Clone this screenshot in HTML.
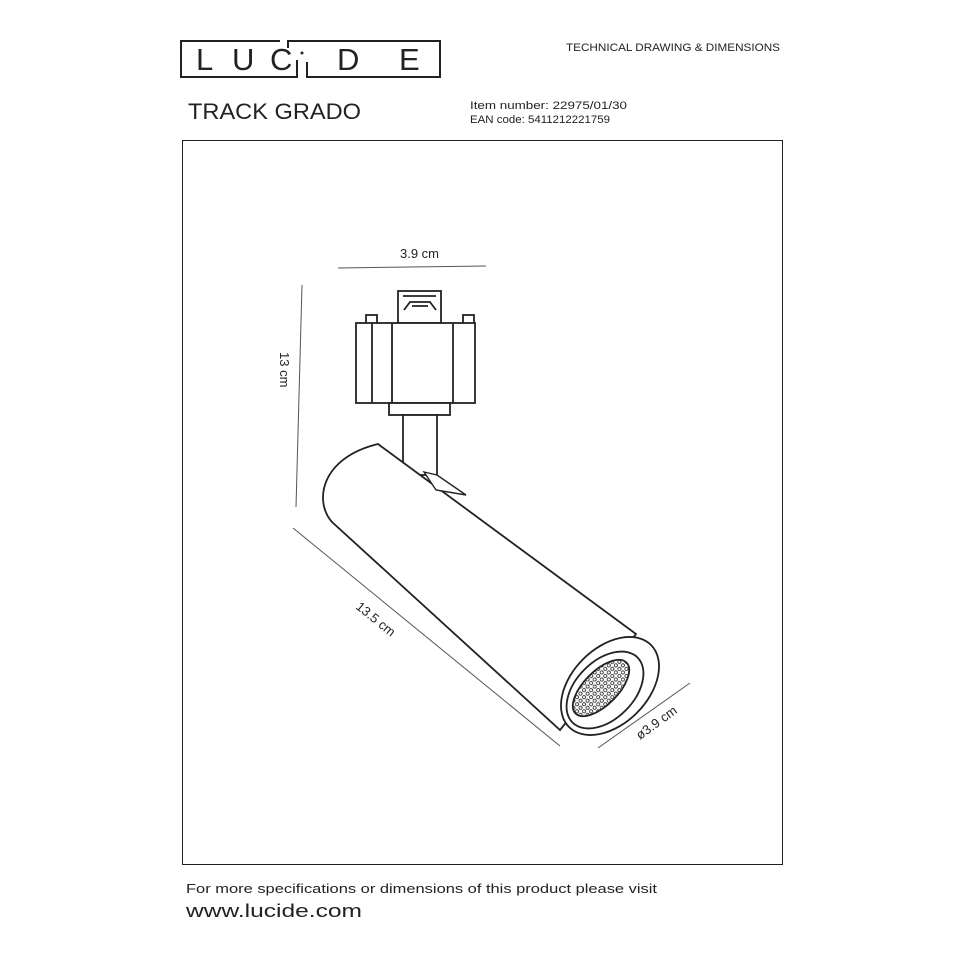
<!DOCTYPE html>
<html><head><meta charset="utf-8"><style>
body{margin:0;background:#fff;width:960px;height:960px;overflow:hidden}
svg{display:block}
text{font-family:"Liberation Sans",sans-serif;fill:#222}
</style></head><body>
<svg width="960" height="960" viewBox="0 0 960 960" xmlns="http://www.w3.org/2000/svg">
<defs><pattern id="m" width="5" height="5" patternUnits="userSpaceOnUse"><circle cx="2.5" cy="2.5" r="1.6" fill="none" stroke="#222" stroke-width="0.8"/></pattern></defs>
<!-- logo -->
<g fill="none" stroke="#222" stroke-width="2">
<path d="M280 41 H181 V77 H297 V60"/>
<path d="M288 48 V41 H440 V77 H307 V62"/>
</g>
<g font-size="31" fill="#222">
<text x="196" y="70" font-size="31">L</text>
<text x="232" y="70" font-size="31">U</text>
<text x="270" y="70" font-size="31">C</text>
<text x="337" y="70" font-size="31">D</text>
<text x="399" y="70" font-size="31">E</text>
</g>
<circle cx="302" cy="53" r="1.5" fill="#222"/>
<text x="566" y="51" font-size="11" fill="#333" textLength="214" lengthAdjust="spacingAndGlyphs">TECHNICAL DRAWING &amp; DIMENSIONS</text>
<text x="188" y="119" font-size="22" textLength="173" lengthAdjust="spacingAndGlyphs">TRACK GRADO</text>
<text x="470" y="109" font-size="11" textLength="157" lengthAdjust="spacingAndGlyphs">Item number: 22975/01/30</text>
<text x="470" y="123" font-size="11" textLength="140" lengthAdjust="spacingAndGlyphs">EAN code: 5411212221759</text>
<rect x="182.5" y="140.5" width="600" height="724" fill="none" stroke="#222" stroke-width="1"/>
<text x="186" y="893" font-size="13" textLength="471" lengthAdjust="spacingAndGlyphs">For more specifications or dimensions of this product please visit</text>
<text x="186" y="917" font-size="18" textLength="176" lengthAdjust="spacingAndGlyphs">www.lucide.com</text>
<!-- dimensions -->
<g stroke="#555" stroke-width="1" fill="none">
<line x1="338" y1="268" x2="486" y2="266"/>
<line x1="302" y1="285" x2="296" y2="507"/>
<line x1="293" y1="528" x2="560" y2="746"/>
<line x1="598" y1="748" x2="690" y2="683"/>
</g>
<text x="400" y="258" font-size="13">3.9 cm</text>
<text transform="translate(280,352) rotate(90)" font-size="13">13 cm</text>
<text transform="translate(355,608) rotate(39)" font-size="13">13.5 cm</text>
<text transform="translate(640,740) rotate(-36)" font-size="13">ø3.9 cm</text>
<!-- lamp -->
<g fill="#fff" stroke="#222" stroke-width="1.8">
<rect x="398" y="291" width="43" height="32"/>
<path d="M403 296 H436 M404 310 L410 302 H430 L436 310 M412 306 H428"/>
<rect x="366" y="315" width="11" height="9"/>
<rect x="463" y="315" width="11" height="9"/>
<rect x="356" y="323" width="119" height="80"/>
<line x1="372" y1="323" x2="372" y2="403"/>
<line x1="392" y1="323" x2="392" y2="403"/>
<line x1="453" y1="323" x2="453" y2="403"/>
<rect x="389" y="403" width="61" height="12"/>
<rect x="403" y="415" width="34" height="60"/>
<path d="M378 444 L636 634 L560 730 L332 522 C314 502 320 458 378 444 Z"/>
<path d="M424 472 L437 475 L466 495 L436 490 Z" stroke-width="1.4"/>
<ellipse cx="610" cy="686" rx="58" ry="38" transform="rotate(-45 610 686)"/>
<ellipse cx="605" cy="690" rx="46" ry="29" transform="rotate(-45 605 690)"/>
<ellipse cx="601" cy="688" rx="36" ry="17" transform="rotate(-45 601 688)" fill="url(#m)"/>
</g>
</svg>
</body></html>
